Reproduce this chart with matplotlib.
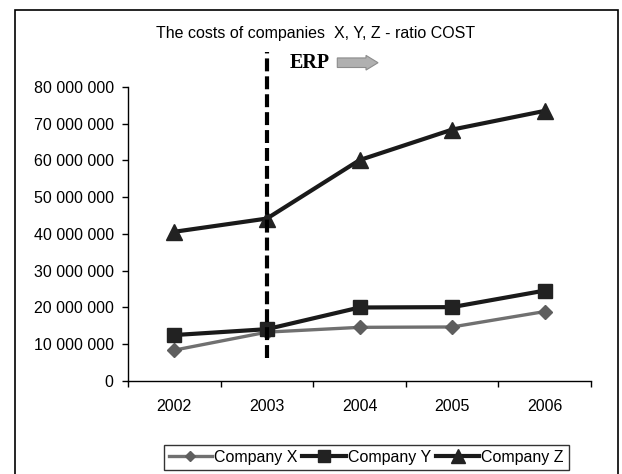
import numpy as np
import matplotlib.pyplot as plt
from matplotlib.patches import Rectangle, FancyArrow
from matplotlib.ticker import FuncFormatter, FixedLocator

plt.rcParams["font.family"] = ["Liberation Sans", "DejaVu Sans"]

years = ["2002", "2003", "2004", "2005", "2006"]
company_x = [8.4e6, 13.3e6, 14.6e6, 14.7e6, 18.9e6]
company_y = [12.5e6, 14.1e6, 20.0e6, 20.1e6, 24.6e6]
company_z = [40.6e6, 44.2e6, 60.1e6, 68.4e6, 73.5e6]
erp_year = "2003"

fig = plt.figure(figsize=(6.22, 4.74), dpi=100)
ax = fig.add_axes([0.2058, 0.1962, 0.7444, 0.6203])

x = np.arange(len(years))
ax.plot(x, company_x, color="#707070", lw=2.4, marker="D", ms=7,
        mfc="#5e5e5e", mec="#5e5e5e", label="Company X", clip_on=False, zorder=3)
ax.plot(x, company_y, color="#1a1a1a", lw=3.0, marker="s", ms=10.5,
        mfc="#222222", mec="#222222", label="Company Y", clip_on=False, zorder=4)
ax.plot(x, company_z, color="#1a1a1a", lw=3.0, marker="^", ms=12,
        mfc="#222222", mec="#222222", label="Company Z", clip_on=False, zorder=5)

# ERP rollout line and label
xe = years.index(erp_year)
ax.plot([xe, xe], [6.3e6, 89.5e6], color="black", lw=3.0, ls=(0, (3.1, 1.2)),
        clip_on=False, zorder=6)
ax.text(xe + 0.245, 86.6e6, "ERP", family=["Liberation Serif", "DejaVu Serif"],
        fontsize=14.5, fontweight="bold", ha="left", va="center")
ax.add_patch(FancyArrow(xe + 0.76, 86.6e6, 0.31, 0, width=2.6e6,
                        head_width=4.0e6, head_length=0.13,
                        length_includes_head=False, fc="#b0b0b0", ec="#8c8c8c",
                        lw=0.8, clip_on=False))

ax.set_xlim(-0.5, len(years) - 0.5)
ax.set_ylim(0, 80e6)
ax.set_yticks(np.arange(0, 80e6 + 1, 10e6))
ax.yaxis.set_major_formatter(FuncFormatter(lambda v, p: f"{int(v):,}".replace(",", " ")))

ax.xaxis.set_major_locator(FixedLocator(np.arange(-0.5, len(years), 1.0)))
ax.xaxis.set_minor_locator(FixedLocator(x))
ax.set_xticklabels([], minor=False)
ax.set_xticklabels(years, minor=True)
ax.tick_params(axis="x", which="minor", length=0, pad=13, labelsize=11.5)
ax.tick_params(axis="x", which="major", length=4.5, direction="out", width=1)
ax.tick_params(axis="y", length=4.3, direction="out", width=1, labelsize=11.5, pad=6)

for side in ["top", "right"]:
    ax.spines[side].set_visible(False)
for side in ["left", "bottom"]:
    ax.spines[side].set_linewidth(1)

fig.text(0.507, 0.930, "The costs of companies  X, Y, Z - ratio COST",
         ha="center", va="center", fontsize=11.5)

leg = ax.legend(loc="center", bbox_to_anchor=(0.589, 0.035),
                bbox_transform=fig.transFigure, ncol=3, frameon=True,
                fancybox=False, edgecolor="black", fontsize=11.5,
                handlelength=2.7, handletextpad=0.15, columnspacing=0.3,
                borderpad=0.3, borderaxespad=0, markerscale=0.8)
leg.get_frame().set_linewidth(1)

# outer chart frame
fig.patches.append(Rectangle((0.024, -0.02), 0.9696, 0.999, transform=fig.transFigure,
                             fill=False, ec="black", lw=1.2))

fig.savefig("out.png", dpi=100)
